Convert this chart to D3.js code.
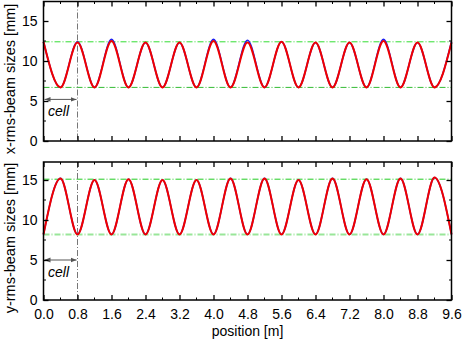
<!DOCTYPE html>
<html>
<head>
<meta charset="utf-8">
<script src="https://cdn.jsdelivr.net/npm/d3@7"></script>
<style>
  body { margin: 0; background: #fff; }
  svg text { font-family: "Liberation Sans", Arial, sans-serif; }
</style>
</head>
<body>
<div id="chart"></div>
<script>
var width = 463;
var height = 346;
var left = 43.5, right = 451.5;

// positions of the envelope extrema [m]
var positions = [0.0,0.4,0.8,1.2,1.6,2.0,2.4,2.8,3.2,3.6,4.0,4.4,4.8,5.2,5.6,6.0,6.4,6.8,7.2,7.6,8.0,8.4,8.8,9.2,9.6];
// x-rms beam size [mm]
var xBlue = [12.4,6.7,12.4,6.7,12.7,6.7,12.3,6.7,12.3,6.7,12.7,6.7,12.6,6.7,12.4,6.7,12.3,6.7,12.3,6.7,12.7,6.7,12.3,6.7,12.4];
var xRed  = [12.4,6.7,12.3,6.7,12.5,6.7,12.3,6.7,12.3,6.7,12.5,6.7,12.3,6.7,12.4,6.7,12.3,6.7,12.3,6.7,12.5,6.7,12.3,6.7,12.3];
// y-rms beam size [mm]
var yBlue = [8.2,15.2,8.2,15.0,8.2,15.1,8.2,15.0,8.2,15.0,8.2,15.2,8.2,15.2,8.2,15.0,8.2,15.2,8.2,15.1,8.2,15.2,8.2,15.3,8.2];
var yRed  = [8.2,15.2,8.2,15.0,8.2,15.1,8.2,15.0,8.2,15.0,8.2,15.2,8.2,15.2,8.2,15.0,8.2,15.2,8.2,15.1,8.2,15.2,8.2,15.3,8.2];

var xTicks = [0.0,0.8,1.6,2.4,3.2,4.0,4.8,5.6,6.4,7.2,8.0,8.8,9.6];
var yTicks = [0,5,10,15];
var cellLength = 0.8;

var panels = [
  { top: 1.5, bottom: 141, label: "x-rms-beam sizes [mm]", labelY: 79, blue: xBlue, red: xRed,
    hi: 12.4, lo: 6.7, hiColor: "#33dd33", loColor: "#33bb33", loWidth: 1, arrowY: 5.2, labels: false },
  { top: 162, bottom: 300, label: "y-rms-beam sizes [mm]", labelY: 238, blue: yBlue, red: yRed,
    hi: 15.1, lo: 8.2, hiColor: "#22cc22", loColor: "#99e699", loWidth: 2, arrowY: 5.0, labels: true }
];

var svg = d3.select("#chart").append("svg")
  .attr("width", width)
  .attr("height", height);

var defs = svg.append("defs");
defs.append("marker")
  .attr("id", "arr")
  .attr("viewBox", "0 0 10 10")
  .attr("refX", 10).attr("refY", 5)
  .attr("markerWidth", 6).attr("markerHeight", 6)
  .attr("orient", "auto-start-reverse")
  .append("path")
  .attr("d", "M0,1L10,5L0,9Z")
  .attr("fill", "#555");

var xscale = d3.scaleLinear().domain([0, 9.6]).range([left, right]);
var minorX = d3.range(0, 25).map(function (i) { return i * 0.4; });
var minorY = [2.5, 7.5, 12.5, 17.5];

panels.forEach(function (p) {
  var yscale = d3.scaleLinear().domain([0, (p.bottom - p.top) / 8]).range([p.bottom, p.top]);
  var g = svg.append("g");

  // horizontal reference lines
  g.append("line")
    .attr("x1", left).attr("x2", right)
    .attr("y1", yscale(p.hi)).attr("y2", yscale(p.hi))
    .attr("stroke", p.hiColor).attr("stroke-width", 1)
    .attr("stroke-dasharray", "6,2,1,2");
  g.append("line")
    .attr("x1", left).attr("x2", right)
    .attr("y1", yscale(p.lo)).attr("y2", yscale(p.lo))
    .attr("stroke", p.loColor).attr("stroke-width", p.loWidth)
    .attr("stroke-dasharray", "6,2,1,2");

  // cell boundary
  g.append("line")
    .attr("x1", xscale(cellLength)).attr("x2", xscale(cellLength))
    .attr("y1", p.top).attr("y2", p.bottom)
    .attr("stroke", "#777").attr("stroke-width", 1)
    .attr("stroke-dasharray", "6,2,1,2");

  // cell arrow
  g.append("line")
    .attr("x1", xscale(0) + 1).attr("x2", xscale(cellLength) - 1)
    .attr("y1", yscale(p.arrowY)).attr("y2", yscale(p.arrowY))
    .attr("stroke", "#555").attr("stroke-width", 1)
    .attr("marker-start", "url(#arr)")
    .attr("marker-end", "url(#arr)");
  g.append("text")
    .attr("x", xscale(cellLength / 2) - 2)
    .attr("y", yscale(p.arrowY) + 17)
    .attr("text-anchor", "middle")
    .attr("font-style", "italic")
    .attr("font-size", 14)
    .text("cell");

  var line = d3.line()
    .x(function (d, i) { return xscale(positions[i]); })
    .y(function (d) { return yscale(d); })
    .curve(d3.curveMonotoneX);

  g.append("path").datum(p.blue)
    .attr("fill", "none").attr("stroke", "#2020f0").attr("stroke-width", 1.6)
    .attr("d", line);
  g.append("path").datum(p.red)
    .attr("fill", "none").attr("stroke", "#f00000").attr("stroke-width", 2)
    .attr("d", line);

  // frame
  g.append("rect")
    .attr("x", left).attr("y", p.top)
    .attr("width", right - left).attr("height", p.bottom - p.top)
    .attr("fill", "none").attr("stroke", "#000").attr("stroke-width", 1.5);

  // ticks on all four sides, pointing inward
  var bottomAxis = d3.axisBottom(xscale).tickValues(xTicks).tickSize(-5)
    .tickFormat(p.labels ? d3.format(".1f") : "").tickPadding(9);
  var topAxis = d3.axisTop(xscale).tickValues(xTicks).tickSize(-5).tickFormat("");
  var leftAxis = d3.axisLeft(yscale).tickValues(yTicks).tickSize(-5).tickPadding(6);
  var rightAxis = d3.axisRight(yscale).tickValues(yTicks).tickSize(-5).tickFormat("");

  [
    [bottomAxis, "translate(0," + p.bottom + ")"],
    [topAxis, "translate(0," + p.top + ")"],
    [leftAxis, "translate(" + left + ",0)"],
    [rightAxis, "translate(" + right + ",0)"]
  ].forEach(function (a) {
    var ax = g.append("g").attr("transform", a[1]).call(a[0]);
    ax.select(".domain").remove();
    ax.selectAll(".tick line").attr("stroke", "#000").attr("stroke-width", 1.3);
    ax.selectAll(".tick text").attr("font-size", 14).attr("fill", "#000")
      .attr("font-family", "Liberation Sans, Arial, sans-serif");
  });

  // minor ticks
  minorX.forEach(function (v) {
    if (xTicks.indexOf(Math.round(v * 10) / 10) >= 0) return;
    g.append("line").attr("x1", xscale(v)).attr("x2", xscale(v))
      .attr("y1", p.bottom).attr("y2", p.bottom - 2.5).attr("stroke", "#000");
    g.append("line").attr("x1", xscale(v)).attr("x2", xscale(v))
      .attr("y1", p.top).attr("y2", p.top + 2.5).attr("stroke", "#000");
  });
  minorY.forEach(function (v) {
    if (yscale(v) < p.top) return;
    g.append("line").attr("x1", left).attr("x2", left + 2.5)
      .attr("y1", yscale(v)).attr("y2", yscale(v)).attr("stroke", "#000");
    g.append("line").attr("x1", right).attr("x2", right - 2.5)
      .attr("y1", yscale(v)).attr("y2", yscale(v)).attr("stroke", "#000");
  });

  // y label
  svg.append("text")
    .attr("transform", "translate(15," + p.labelY + ") rotate(-90)")
    .attr("text-anchor", "middle")
    .attr("font-size", 14.5)
    .text(p.label);
});

// x label
svg.append("text")
  .attr("x", (left + right) / 2)
  .attr("y", 336)
  .attr("text-anchor", "middle")
  .attr("font-size", 14)
  .text("position [m]");
</script>
</body>
</html>
